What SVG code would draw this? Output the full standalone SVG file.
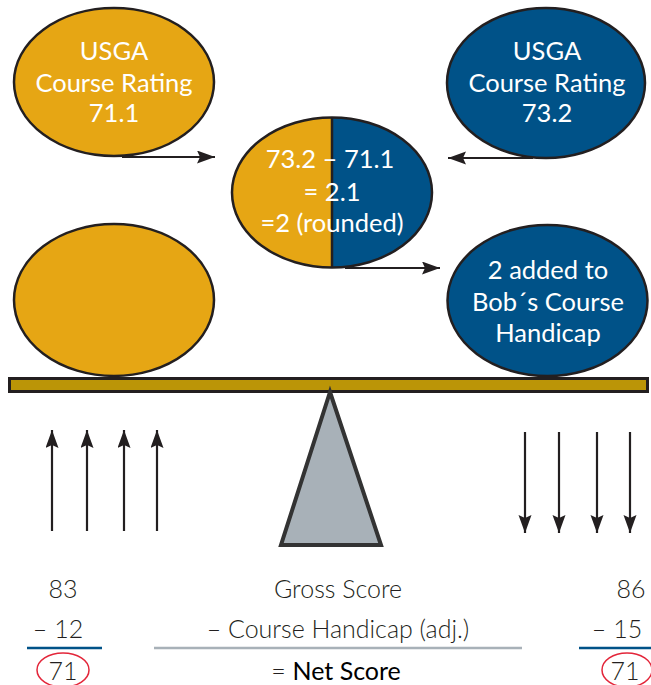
<svg xmlns="http://www.w3.org/2000/svg" width="651" height="685" viewBox="0 0 651 685">
<defs>
<style>
.yel{fill:#e6a614;stroke:#231f20;stroke-width:2.5}
.blu{fill:#005288;stroke:#231f20;stroke-width:2.5}
.lbl{font-family:Lato,"Open Sans","Liberation Sans",sans-serif;font-size:25.5px;fill:#ffffff;text-anchor:middle}
.eq{font-family:Lato,"Open Sans","Liberation Sans",sans-serif;font-size:25px;fill:#231f20;text-anchor:middle;font-weight:300}
.conn{stroke:#231f20;stroke-width:2.2;fill:none}
.red{fill:none;stroke:#e3263a;stroke-width:1.5}
</style>
<marker id="ah" markerUnits="userSpaceOnUse" markerWidth="20" markerHeight="14" refX="18" refY="6.5" orient="auto">
<path d="M0,0 L18,6.5 L0,13 L3,6.5 z" fill="#231f20"/>
</marker>
<clipPath id="cc"><ellipse cx="332" cy="192.5" rx="100" ry="75"/></clipPath>
</defs>

<g id="rating-left">
<ellipse class="yel" cx="114" cy="82" rx="100" ry="74"/>
<text class="lbl" x="114" y="60">USGA</text>
<text class="lbl" x="114" y="92">Course Rating</text>
<text class="lbl" x="114" y="122">71.1</text>
</g>

<g id="rating-right">
<ellipse class="blu" cx="546" cy="83" rx="99" ry="75"/>
<text class="lbl" x="547" y="60">USGA</text>
<text class="lbl" x="547" y="92">Course Rating</text>
<text class="lbl" x="547" y="122">73.2</text>
</g>

<g id="difference">
<g clip-path="url(#cc)">
<rect x="230" y="115" width="102" height="156" fill="#e6a614"/>
<rect x="332" y="115" width="102" height="156" fill="#005288"/>
</g>
<line x1="332" y1="117" x2="332" y2="268" stroke="#231f20" stroke-width="2.5"/>
<ellipse cx="332" cy="192.5" rx="100" ry="75" fill="none" stroke="#231f20" stroke-width="2.5"/>
<text class="lbl" x="330" y="168">73.2 – 71.1</text>
<text class="lbl" x="332" y="201">= 2.1</text>
<text class="lbl" x="332" y="232">=2 (rounded)</text>
</g>

<g id="weight-left">
<ellipse class="yel" cx="114" cy="300" rx="100" ry="76"/>
</g>

<g id="weight-right">
<ellipse class="blu" cx="547.5" cy="300.5" rx="100" ry="75.5"/>
<text class="lbl" x="548" y="279">2 added to</text>
<text class="lbl" x="548" y="311">Bob´s Course</text>
<text class="lbl" x="548" y="342">Handicap</text>
</g>

<g id="beam">
<rect x="9.5" y="378.5" width="638" height="13" fill="#bb9507" stroke="#231f20" stroke-width="3"/>
</g>

<g id="fulcrum">
<polygon points="330,392 281,545 381,545" fill="#a8b1b8" stroke="#333333" stroke-width="4" stroke-linejoin="miter"/>
</g>

<g id="connectors">
<line class="conn" x1="122" y1="157" x2="215" y2="157" marker-end="url(#ah)"/>
<line class="conn" x1="533" y1="158" x2="448" y2="158" marker-end="url(#ah)"/>
<line class="conn" x1="345" y1="268" x2="440" y2="268" marker-end="url(#ah)"/>
<line class="conn" x1="52" y1="531" x2="52" y2="430" marker-end="url(#ah)"/>
<line class="conn" x1="87" y1="531" x2="87" y2="430" marker-end="url(#ah)"/>
<line class="conn" x1="124" y1="531" x2="124" y2="430" marker-end="url(#ah)"/>
<line class="conn" x1="157" y1="531" x2="157" y2="430" marker-end="url(#ah)"/>
<line class="conn" x1="525" y1="432" x2="525" y2="533" marker-end="url(#ah)"/>
<line class="conn" x1="559" y1="432" x2="559" y2="533" marker-end="url(#ah)"/>
<line class="conn" x1="597" y1="432" x2="597" y2="533" marker-end="url(#ah)"/>
<line class="conn" x1="630" y1="432" x2="630" y2="533" marker-end="url(#ah)"/>
</g>

<g id="calc-left">
<text class="eq" x="63" y="598">83</text>
<text class="eq" x="58" y="638">– 12</text>
<line x1="27" y1="648" x2="102" y2="648" stroke="#005288" stroke-width="2.5"/>
<ellipse class="red" cx="63" cy="670" rx="26" ry="17"/>
<text class="eq" x="63" y="680">71</text>
</g>

<g id="calc-middle">
<text class="eq" x="338" y="598">Gross Score</text>
<text class="eq" x="338" y="638">–  Course Handicap (adj.)</text>
<line x1="154" y1="648" x2="522" y2="648" stroke="#a8b1b8" stroke-width="2.5"/>
<text class="eq" x="336" y="680"><tspan>= </tspan><tspan font-weight="400" fill="#000000">Net Score</tspan></text>
</g>

<g id="calc-right">
<text class="eq" x="631" y="598">86</text>
<text class="eq" x="617" y="638">– 15</text>
<line x1="579" y1="648" x2="651" y2="648" stroke="#005288" stroke-width="2.5"/>
<ellipse class="red" cx="627" cy="670" rx="25" ry="17"/>
<text class="eq" x="625" y="680">71</text>
</g>
</svg>
